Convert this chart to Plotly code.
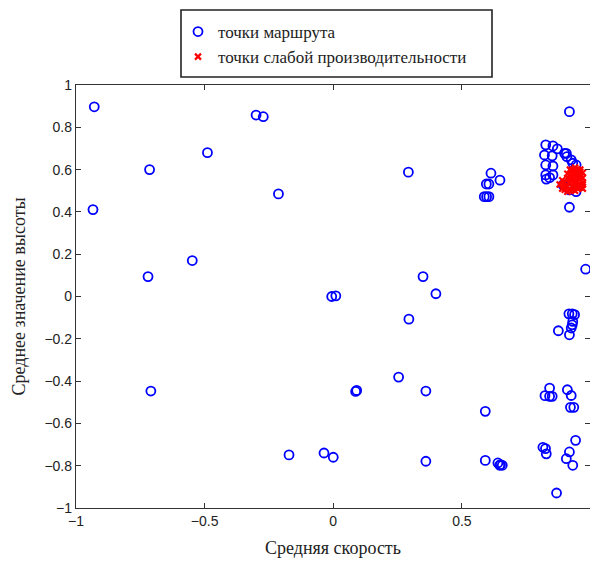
import plotly.graph_objects as go

# Route points: mean speed (x) vs mean altitude (y)
route_speed = [
    -0.929, -0.934, -0.714, -0.720, -0.709, -0.548, -0.489, -0.300, -0.272, -0.213,
    -0.006, 0.010, 0.292, 0.349, 0.399, 0.294, 0.091, 0.087, 0.254, 0.360,
    -0.172, -0.036, 0.000, 0.360,
    0.613, 0.648, 0.595, 0.605, 0.587, 0.605, 0.596, 0.591, 0.591,
    0.640, 0.650, 0.657, 0.647,
    0.918, 0.918, 0.981,
    0.826, 0.854, 0.906, 0.925, 0.931, 0.821, 0.851, 0.826, 0.854, 0.826,
    0.854, 0.828, 0.893, 0.918, 0.944, 0.871, 0.899, 0.908, 0.944, 0.841,
    0.916, 0.929, 0.938, 0.931, 0.929, 0.925, 0.875, 0.918,
    0.841, 0.823, 0.841, 0.851, 0.910, 0.925, 0.922, 0.935,
    0.942, 0.918, 0.906, 0.931, 0.815, 0.825, 0.828, 0.868,
]
route_height = [
    0.897, 0.411, 0.600, 0.094, -0.447, 0.170, 0.680, 0.858, 0.850, 0.485,
    0.000, 0.003, 0.588, 0.094, 0.013, -0.107, -0.444, -0.449, -0.381, -0.447,
    -0.749, -0.740, -0.760, -0.779,
    0.583, 0.550, 0.532, 0.532, 0.472, 0.472, 0.472, -0.543, -0.775,
    -0.787, -0.795, -0.798, -0.798,
    0.874, 0.422, 0.129,
    0.717, 0.712, 0.677, 0.646, 0.630, 0.669, 0.665, 0.622, 0.617, 0.575,
    0.575, 0.555, 0.528, 0.504, 0.496, 0.698, 0.677, 0.661, 0.622, 0.562,
    -0.082, -0.082, -0.086, -0.118, -0.134, -0.149, -0.162, -0.181,
    -0.433, -0.469, -0.472, -0.472, -0.441, -0.468, -0.524, -0.524,
    -0.680, -0.735, -0.767, -0.798, -0.713, -0.719, -0.744, -0.929,
]

# Low-performance points
weak_speed = [
    0.93, 0.95, 0.94, 0.96, 0.92, 0.95, 0.97, 0.93, 0.90, 0.94, 0.96,
    0.88, 0.91, 0.93, 0.95, 0.97, 0.92, 0.94, 0.90, 0.96, 0.94, 0.89,
    0.91, 0.92, 0.93, 0.95, 0.96, 0.97, 0.91, 0.93, 0.94, 0.96, 0.92,
    0.95, 0.97, 0.90, 0.92, 0.94, 0.96, 0.89, 0.91, 0.93, 0.95, 0.97,
]
weak_height = [
    0.60, 0.60, 0.58, 0.58, 0.57, 0.56, 0.56, 0.55, 0.54, 0.54, 0.53,
    0.53, 0.52, 0.52, 0.51, 0.51, 0.50, 0.50, 0.505, 0.59, 0.61, 0.55,
    0.58, 0.60, 0.585, 0.575, 0.565, 0.585, 0.56, 0.57, 0.595, 0.60, 0.535,
    0.545, 0.54, 0.52, 0.555, 0.525, 0.515, 0.51, 0.495, 0.505, 0.525, 0.53,
]

x_ticks = [-1, -0.5, 0, 0.5, 1]
y_ticks = [-1, -0.8, -0.6, -0.4, -0.2, 0, 0.2, 0.4, 0.6, 0.8, 1]

W, H = 590, 562
L, R, T, B = 76, 0, 85, 54
pw, ph = W - L - R, H - T - B

serif = "Liberation Serif, Times New Roman, serif"
sans = "Liberation Sans, Arial, sans-serif"

fig = go.Figure()
fig.add_trace(go.Scatter(
    x=route_speed, y=route_height, mode="markers",
    name="точки маршрута",
    marker=dict(symbol="circle-open", size=9, color="#0000ff",
                line=dict(width=1.8, color="#0000ff")),
))
fig.add_trace(go.Scatter(
    x=weak_speed, y=weak_height, mode="markers",
    name="точки слабой производительности",
    marker=dict(symbol="x-thin-open", size=6, color="#ff0000",
                line=dict(width=2.2, color="#ff0000")),
))

axis_style = dict(
    showgrid=False, zeroline=False, showline=True, linecolor="#333333",
    linewidth=1.3, mirror="ticks", ticks="inside", ticklen=5,
    tickcolor="#333333", tickfont=dict(family=sans, size=14, color="#222222"),
)

fig.update_xaxes(range=[-1, 0.998], tickvals=x_ticks, **axis_style)
fig.update_yaxes(range=[-1, 1], tickvals=y_ticks, **axis_style)

# legend frame
bx0, bx1, by0, by1 = 181, 492, 10, 77
fig.add_shape(
    type="rect", xref="paper", yref="paper",
    x0=(bx0 - L) / pw, x1=(bx1 - L) / pw,
    y0=(H - B - by1) / ph, y1=(H - B - by0) / ph,
    line=dict(color="#222222", width=1.6), fillcolor="rgba(0,0,0,0)",
)

fig.add_annotation(
    text="Средняя скорость", xref="paper", yref="paper", x=0.5, y=0,
    xanchor="center", yanchor="middle", yshift=-(548 - (H - B)),
    showarrow=False, font=dict(family=serif, size=18, color="#222222"),
)
fig.add_annotation(
    text="Среднее значение высоты", xref="paper", yref="paper", x=0, y=0.5,
    xanchor="center", yanchor="middle", xshift=18 - L, textangle=-90,
    showarrow=False, font=dict(family=serif, size=18, color="#222222"),
)

fig.update_layout(
    width=W, height=H,
    margin=dict(l=L, r=R, t=T, b=B, autoexpand=False),
    paper_bgcolor="white", plot_bgcolor="white",
    showlegend=True,
    legend=dict(
        xref="container", yref="container",
        x=178 / W, y=1 - 14 / H, xanchor="left", yanchor="top",
        bgcolor="rgba(0,0,0,0)", borderwidth=0,
        font=dict(family=serif, size=17, color="#222222"),
        itemwidth=30, tracegroupgap=0,
    ),
)

fig.write_html("out.html")
